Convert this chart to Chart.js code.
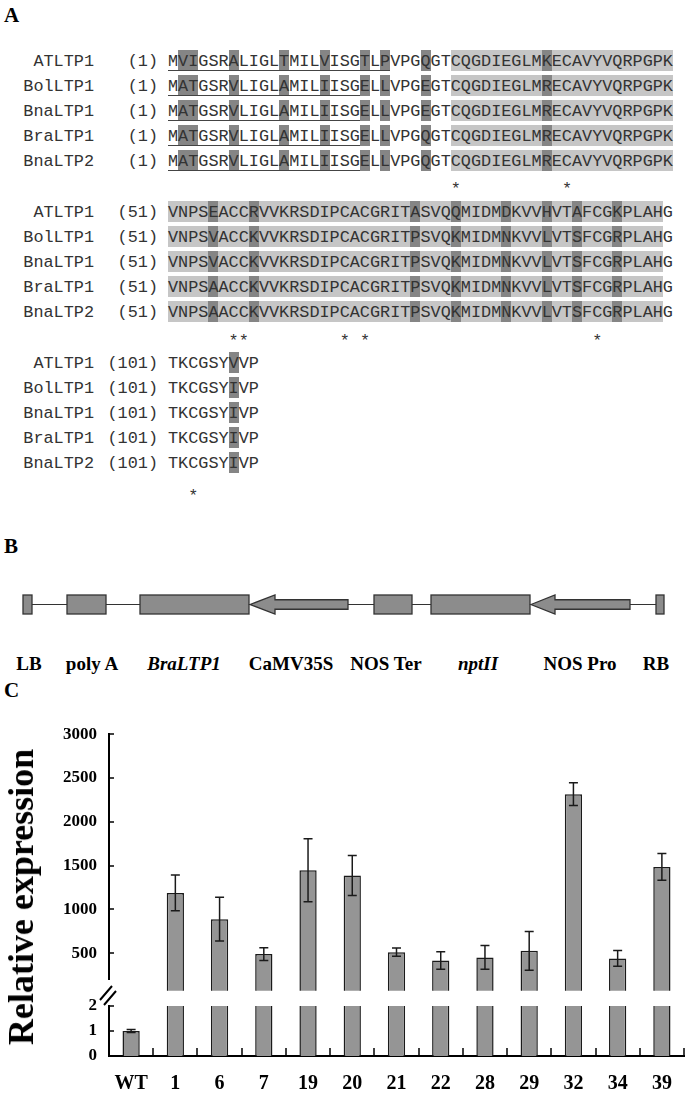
<!DOCTYPE html>
<html><head><meta charset="utf-8">
<script src="https://cdn.jsdelivr.net/npm/chart.js@4.4.0/dist/chart.umd.min.js"></script>
<style>
html,body{margin:0;padding:0;background:#fff;}
body{width:692px;height:1094px;position:relative;overflow:hidden;font-family:"Liberation Serif","Times New Roman",serif;}
.abs{position:absolute;}
.mono{font-family:"Liberation Mono","Courier New",monospace;font-size:16.83px;color:#333;white-space:pre;line-height:21px;}
.plabel{position:absolute;font-weight:bold;font-size:21px;color:#000;line-height:1;}
.clabel{position:absolute;font-weight:bold;font-size:19px;color:#000;white-space:nowrap;transform:translateX(-50%);line-height:1;}
canvas{position:absolute;left:0;}
</style></head><body>
<div id="panelA"></div>
<div id="panelB"></div>
<div class="plabel" style="left:4px;top:5px;">A</div>
<div class="plabel" style="left:4px;top:536px;">B</div>
<div class="plabel" style="left:4px;top:680px;">C</div>
<canvas id="upper" width="692" height="301" style="top:712px;width:692px;height:301px;"></canvas>
<canvas id="lower" width="692" height="114" style="top:980px;width:692px;height:114px;"></canvas>
<div class="abs" style="left:21px;top:897px;transform:translate(-50%,-50%) rotate(-90deg);font-weight:bold;font-size:36px;white-space:nowrap;color:#000;line-height:1;">Relative expression</div>
<script>
// ---------- Panel A data ----------
const alignNames = ['ATLTP1','BolLTP1','BnaLTP1','BraLTP1','BnaLTP2'];
const blockStarts = [1, 51, 101];
const seqBlock1 = [
  'MVIGSRALIGLTMILVISGTLPVPGQGTCQGDIEGLMKECAVYVQRPGPK',
  'MATGSRVLIGLAMILIISGELLVPGEGTCQGDIEGLMRECAVYVQRPGPK',
  'MATGSRVLIGLAMILIISGELLVPGEGTCQGDIEGLMRECAVYVQRPGPK',
  'MATGSRVLIGLAMILIISGELLVPGQGTCQGDIEGLMRECAVYVQRPGPK',
  'MATGSRVLIGLAMILIISGELLVPGQGTCQGDIEGLMRECAVYVQRPGPK'];
const seqBlock2 = [
  'VNPSEACCRVVKRSDIPCACGRITASVQQMIDMDKVVHVTAFCGKPLAHG',
  'VNPSVACCKVVKRSDIPCACGRITPSVQKMIDMNKVVLVTSFCGRPLAHG',
  'VNPSVACCKVVKRSDIPCACGRITPSVQKMIDMNKVVLVTSFCGRPLAHG',
  'VNPSAACCKVVKRSDIPCACGRITPSVQKMIDMNKVVLVTSFCGRPLAHG',
  'VNPSAACCKVVKRSDIPCACGRITPSVQKMIDMNKVVLVTSFCGRPLAHG'];
const seqBlock3 = ['TKCGSYVVP','TKCGSYIVP','TKCGSYIVP','TKCGSYIVP','TKCGSYIVP'];
const darkCols1 = [2,3,7,12,16,20,22,26,38];
const darkCols2 = [55,59,75,79,84,88,91,95];
const darkCols3 = [107];
const lightSpan1 = [29,50];
const lightSpan2 = [51,99];
const signalEnd = [22,19,19,19,19];
const stars1 = [29,40];
const stars2 = [57,58,68,70,93];
const stars3 = [103];

// ---------- Panel B data ----------
const constructLabels = ['LB','poly A','BraLTP1','CaMV35S','NOS Ter','nptII','NOS Pro','RB'];
const constructItalic = [false,false,true,false,false,true,false,false];

// ---------- Panel C data ----------
const categories = ['WT','1','6','7','19','20','21','22','28','29','32','34','39'];
const expression = [1.0, 1188, 888, 489, 1447, 1387, 511, 417, 451, 526, 2315, 439, 1485];
const expressionErr = [0.06, 205, 250, 72, 360, 228, 47, 100, 135, 220, 130, 90, 152];
const upperTicks = [500, 1000, 1500, 2000, 2500, 3000];
const lowerTicks = [0, 1, 2];
const upperRange = [70, 3000];
const lowerRange = [0, 2];

// ---------- build panel A ----------
(function(){
  const A = document.getElementById('panelA');
  const CW = 10.1, X0 = 168;
  const blocks = [
    {seqs: seqBlock1, dark: darkCols1, light: lightSpan1, stars: stars1, under: true},
    {seqs: seqBlock2, dark: darkCols2, light: lightSpan2, stars: stars2, under: false},
    {seqs: seqBlock3, dark: darkCols3, light: null, stars: stars3, under: false}];
  const starGap = [28, 29, 33];
  let html = '';
  blocks.forEach((b, bi) => {
    const start = blockStarts[bi];
    const base0 = 66 + bi * 151;
    const colX = p => X0 + (p - start) * CW;
    b.seqs.forEach((s, r) => {
      const bl = base0 + r * 25;
      const top = bl - 16;
      if (b.light) html += `<div class="abs" style="left:${colX(b.light[0])}px;top:${top}px;width:${(b.light[1]-b.light[0]+1)*CW}px;height:21px;background:#c6c6c6"></div>`;
      b.dark.forEach(p => { html += `<div class="abs" style="left:${colX(p)}px;top:${top}px;width:${CW}px;height:21px;background:#858585"></div>`; });
      if (b.under) html += `<div class="abs" style="left:${X0}px;top:${bl+4}px;width:${signalEnd[r]*CW}px;height:1px;background:#444"></div>`;
      html += `<div class="abs mono" style="left:0;width:94px;text-align:right;top:${bl-15}px">${alignNames[r]}</div>`;
      html += `<div class="abs mono" style="left:98px;width:60px;text-align:right;top:${bl-15}px">(${start})</div>`;
      html += `<div class="abs mono" style="left:${X0}px;top:${bl-15}px">${s}</div>`;
    });
    const sb = base0 + 4 * 25 + starGap[bi];
    b.stars.forEach(p => { html += `<div class="abs mono" style="left:${colX(p)}px;width:${CW}px;text-align:center;top:${sb-15}px">*</div>`; });
  });
  A.innerHTML = html;
})();

// ---------- build panel B ----------
(function(){
  const B = document.getElementById('panelB');
  const yT = 595, h = 19, yM = yT + h/2;
  const boxes = [[23,9],[67,39],[140,109],[374,38],[431,99],[656,8]];
  const arrows = [[250,275,348],[531,555,630]];
  let svg = `<svg class="abs" style="left:0;top:0" width="692" height="640">`;
  svg += `<line x1="27" x2="660" y1="${yM}" y2="${yM}" stroke="#333" stroke-width="1.2"/>`;
  boxes.forEach(([x,w]) => { svg += `<rect x="${x}" y="${yT}" width="${w}" height="${h}" fill="#8c8c8c" stroke="#333" stroke-width="1.3"/>`; });
  arrows.forEach(([tip,back,end]) => {
    const st = yM - h*0.25, sbm = yM + h*0.25;
    svg += `<polygon points="${tip},${yM} ${back},${yT} ${back},${st} ${end},${st} ${end},${sbm} ${back},${sbm} ${back},${yT+h}" fill="#8c8c8c" stroke="#333" stroke-width="1.3"/>`;
  });
  svg += `</svg>`;
  const centers = [29, 92, 184, 291, 386, 478, 580, 656];
  let html = svg;
  constructLabels.forEach((t, i) => {
    html += `<div class="clabel" style="left:${centers[i]}px;top:654px;${constructItalic[i]?'font-style:italic;':''}">${t}</div>`;
  });
  B.innerHTML = html;
})();

// ---------- Panel C charts ----------
const FONT = "'Liberation Serif','Times New Roman',serif";
const errorBars = {
  id: 'errorBars',
  afterDatasetsDraw(chart) {
    const ctx = chart.ctx, ca = chart.chartArea, ys = chart.scales.y;
    const meta = chart.getDatasetMeta(0);
    ctx.save();
    ctx.beginPath(); ctx.rect(ca.left, ca.top - 1, ca.right - ca.left, ca.bottom - ca.top + 1); ctx.clip();
    ctx.strokeStyle = '#1a1a1a'; ctx.lineWidth = 1.5;
    meta.data.forEach((bar, i) => {
      const v = expression[i], e = expressionErr[i];
      const y1 = ys.getPixelForValue(v + e), y2 = ys.getPixelForValue(v - e), x = bar.x;
      ctx.beginPath();
      ctx.moveTo(x, y1); ctx.lineTo(x, y2);
      ctx.moveTo(x - 4.5, y1); ctx.lineTo(x + 4.5, y1);
      ctx.moveTo(x - 4.5, y2); ctx.lineTo(x + 4.5, y2);
      ctx.stroke();
    });
    ctx.restore();
  }
};
const inTicks = {
  id: 'inTicks',
  afterDraw(chart, args, opts) {
    const ctx = chart.ctx, ca = chart.chartArea, ys = chart.scales.y, xs = chart.scales.x;
    ctx.save();
    ctx.strokeStyle = '#000'; ctx.lineWidth = 1.5;
    ys.ticks.forEach(t => {
      const y = Math.round(ys.getPixelForValue(t.value));
      ctx.beginPath(); ctx.moveTo(ca.left, y); ctx.lineTo(ca.left + 5, y); ctx.stroke();
    });
    if (opts.xTicks) {
      const half = (xs.getPixelForValue(1) - xs.getPixelForValue(0)) / 2;
      for (let i = 0; i < categories.length; i++) {
        const x = Math.round(xs.getPixelForValue(i) + half);
        ctx.beginPath(); ctx.moveTo(x, ca.bottom); ctx.lineTo(x, ca.bottom - 8); ctx.stroke();
      }
    }
    if (opts.breakMark) {
      ctx.fillStyle = '#fff';
      ctx.fillRect(ca.left - 3, ca.top - 26, 6, 23);
      ctx.lineWidth = 2;
      ctx.beginPath();
      ctx.moveTo(ca.left - 9, ca.top - 6); ctx.lineTo(ca.left + 3, ca.top - 20);
      ctx.moveTo(ca.left - 5, ca.top - 1); ctx.lineTo(ca.left + 7, ca.top - 15);
      ctx.stroke();
    }
    ctx.restore();
  }
};

function makeChart(id, range, ticks, showX, padding, opts) {
  return new Chart(document.getElementById(id), {
    type: 'bar',
    data: { labels: categories, datasets: [{
      data: expression, backgroundColor: '#959595', borderColor: '#1a1a1a', borderWidth: 1.5,
      borderSkipped: 'start', categoryPercentage: 1.0, barPercentage: 0.39, clip: 0 }]},
    options: {
      responsive: false, animation: false, devicePixelRatio: 1,
      layout: { padding },
      plugins: { legend: {display: false}, tooltip: {enabled: false}, inTicks: opts },
      scales: {
        x: {
          display: showX,
          grid: { display: false, drawTicks: false },
          border: { display: true, color: '#000', width: 2 },
          ticks: { font: { family: FONT, size: 20, weight: 'bold' }, color: '#000', padding: 16, maxRotation: 0 },
          afterFit: s => { if (showX) s.height = 38; }
        },
        y: {
          min: range[0], max: range[1],
          grid: { display: false, drawTicks: false },
          border: { display: true, color: '#000', width: 2 },
          ticks: { font: { family: FONT, size: 17, weight: 'bold' }, color: '#000', padding: 12,
                   callback: v => String(v) },
          afterBuildTicks: s => { s.ticks = ticks.map(v => ({ value: v })); },
          afterFit: s => { s.width = 70; }
        }
      }
    },
    plugins: [errorBars, inTicks]
  });
}
makeChart('upper', upperRange, upperTicks, false, {top: 0, bottom: 0, left: 39, right: 8}, {xTicks: false, breakMark: false});
makeChart('lower', lowerRange, lowerTicks, true, {top: 26, bottom: 0, left: 39, right: 8}, {xTicks: true, breakMark: true});
</script>
</body></html>
